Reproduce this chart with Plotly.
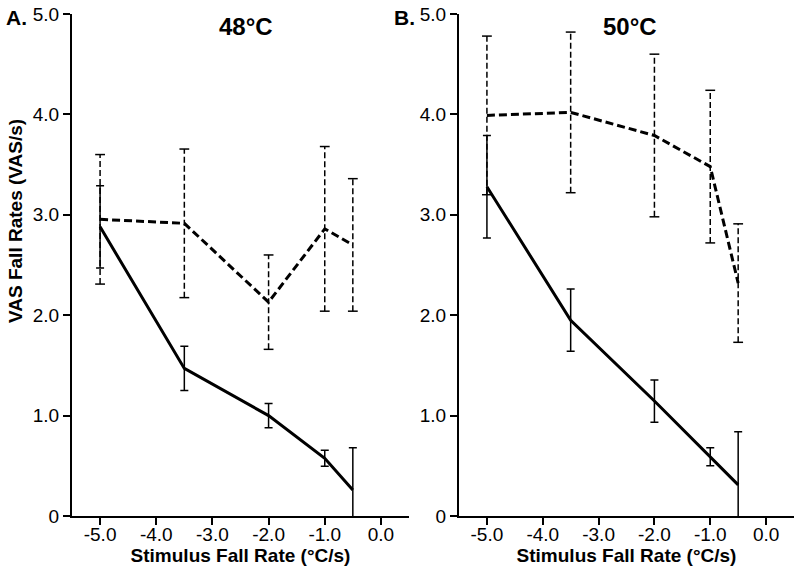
import plotly.graph_objects as go

# ---- data ----
rates = [-5.0, -3.5, -2.0, -1.0, -0.5]

# 48 C panel
solid48 = [2.88, 1.47, 1.00, 0.575, 0.26]
solid48_err = [0.41, 0.22, 0.12, 0.08, 0.42]
dash48 = [2.955, 2.915, 2.13, 2.86, 2.70]
dash48_err = [0.645, 0.74, 0.47, 0.82, 0.66]

# 50 C panel
solid50 = [3.28, 1.95, 1.145, 0.59, 0.31]
solid50_err = [0.51, 0.31, 0.21, 0.09, 0.53]
dash50 = [3.99, 4.02, 3.79, 3.48, 2.32]
dash50_err = [0.79, 0.80, 0.81, 0.76, 0.59]

x_ticks = [-5.0, -4.0, -3.0, -2.0, -1.0, 0.0]
x_ticklabels = ["-5.0", "-4.0", "-3.0", "-2.0", "-1.0", "0.0"]
y_ticks = [0, 1, 2, 3, 4, 5]
y_ticklabels = ["0", "1.0", "2.0", "3.0", "4.0", "5.0"]

panel_titles = ["48°C", "50°C"]
panel_letters = ["A.", "B."]
x_title = "Stimulus Fall Rate (°C/s)"
y_title = "VAS Fall Rates (VAS/s)"

FONT = "Liberation Sans, Arial, Helvetica, sans-serif"
W, H = 800, 574


def px(p):  # page x pixel -> paper fraction
    return p / W


def py(p):  # page y pixel (from top) -> paper fraction
    return 1 - p / H


fig = go.Figure()


def add_panel(xa, ya, solid, solid_err, dash, dash_err):
    # dashed error bars (vertical segments)
    ex, ey = [], []
    lo, hi = [], []
    for x, v, e in zip(rates, dash, dash_err):
        ex += [x, x, None]
        ey += [v - e, v + e, None]
        lo.append(v - e)
        hi.append(v + e)
    fig.add_trace(go.Scatter(x=ex, y=ey, mode="lines", xaxis=xa, yaxis=ya,
                             line=dict(color="black", width=1.5, dash="6px,3px"),
                             showlegend=False, hoverinfo="skip"))
    fig.add_trace(go.Scatter(x=rates + rates, y=lo + hi, mode="markers", xaxis=xa, yaxis=ya,
                             marker=dict(symbol="line-ew", size=7,
                                         line=dict(color="black", width=1.5)),
                             showlegend=False, hoverinfo="skip"))
    # dashed mean line
    fig.add_trace(go.Scatter(x=rates, y=dash, mode="lines", xaxis=xa, yaxis=ya,
                             line=dict(color="black", width=3, dash="8px,4px"),
                             showlegend=False))
    # solid line with error bars
    fig.add_trace(go.Scatter(x=rates, y=solid, mode="lines", xaxis=xa, yaxis=ya,
                             line=dict(color="black", width=3),
                             error_y=dict(type="data", array=solid_err, visible=True,
                                          color="black", thickness=1.5, width=4),
                             showlegend=False))


add_panel("x", "y", solid48, solid48_err, dash48, dash48_err)
add_panel("x2", "y2", solid50, solid50_err, dash50, dash50_err)

ydom = [py(516), py(14)]
axis_common = dict(showline=True, linecolor="black", linewidth=2, ticks="outside",
                   ticklen=7, tickwidth=2, tickcolor="black", showgrid=False,
                   zeroline=False, automargin=False, ticklabeloverflow="allow",
                   tickfont=dict(family=FONT, size=19, color="black"))

xax = dict(axis_common, range=[-5.5, 0.5], tickvals=x_ticks, ticktext=x_ticklabels,
           ticklabelstandoff=-7,
           title=dict(text="<b>" + x_title + "</b>",
                      font=dict(family=FONT, size=19, color="black"), standoff=4))
yax = dict(axis_common, range=[0, 5], tickvals=y_ticks, ticktext=y_ticklabels,
           ticklabelstandoff=0)

fig.update_layout(
    template="none",
    width=W, height=H,
    margin=dict(l=0, r=0, t=0, b=0, autoexpand=False),
    paper_bgcolor="white", plot_bgcolor="white",
    xaxis=dict(xax, domain=[px(72), px(409)], anchor="y"),
    yaxis=dict(yax, domain=ydom, anchor="x"),
    xaxis2=dict(xax, domain=[px(459), px(794)], anchor="y2"),
    yaxis2=dict(yax, domain=ydom, anchor="x2"),
    font=dict(family=FONT, color="black"),
    showlegend=False,
)

annotations = [
    dict(text="<b>" + y_title + "</b>", x=px(15), y=py(221), xref="paper", yref="paper",
         textangle=-90, showarrow=False, font=dict(family=FONT, size=19, color="black"),
         xanchor="center", yanchor="middle"),
    dict(text="<b>" + panel_titles[0] + "</b>", x=px(246), y=py(27), xref="paper", yref="paper",
         showarrow=False, font=dict(family=FONT, size=24, color="black"),
         xanchor="center", yanchor="middle"),
    dict(text="<b>" + panel_titles[1] + "</b>", x=px(630), y=py(27), xref="paper", yref="paper",
         showarrow=False, font=dict(family=FONT, size=24, color="black"),
         xanchor="center", yanchor="middle"),
    dict(text="<b>" + panel_letters[0] + "</b>", x=px(16), y=py(18), xref="paper", yref="paper",
         showarrow=False, font=dict(family=FONT, size=21, color="black"),
         xanchor="center", yanchor="middle"),
    dict(text="<b>" + panel_letters[1] + "</b>", x=px(404), y=py(18), xref="paper", yref="paper",
         showarrow=False, font=dict(family=FONT, size=21, color="black"),
         xanchor="center", yanchor="middle"),
]
fig.update_layout(annotations=annotations)

# remove the default 8px body margin so the figure sits at the page origin
fig.write_html("out.html", config={"displayModeBar": False},
               post_script="document.body.style.margin='0px';")
